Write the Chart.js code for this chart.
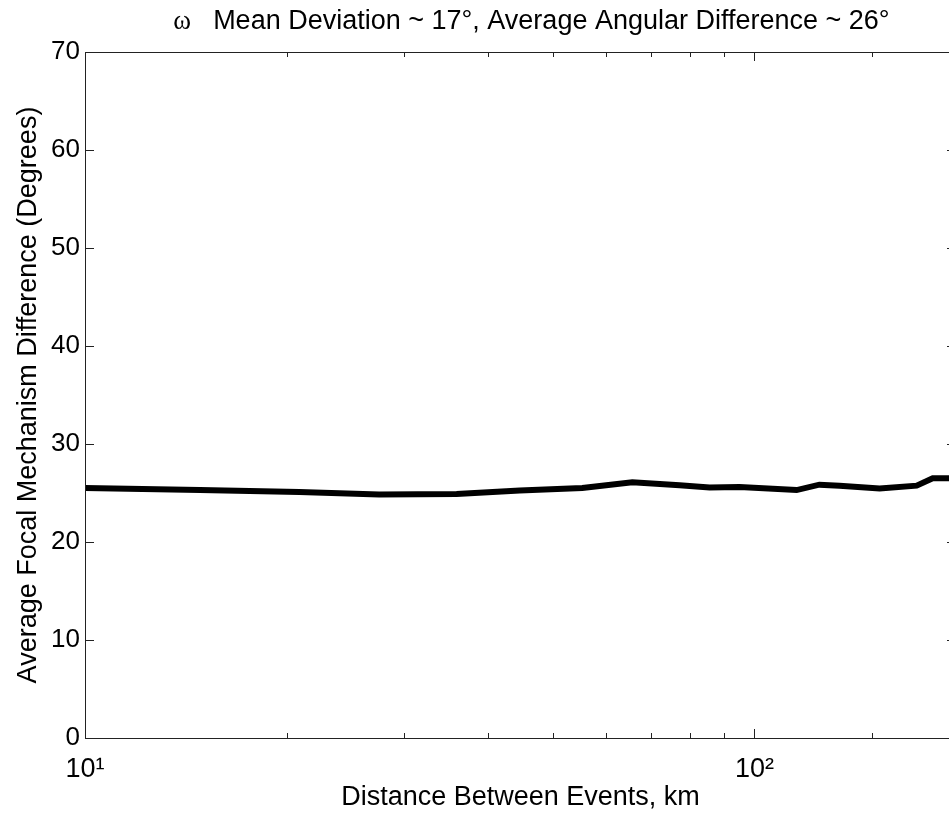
<!DOCTYPE html>
<html>
<head>
<meta charset="utf-8">
<script src="https://cdn.jsdelivr.net/npm/chart.js@4.4.1/dist/chart.umd.min.js"></script>
<style>
  html, body { margin: 0; padding: 0; background: #fff; overflow: hidden; width: 949px; height: 816px; }
  canvas { display: block; }
</style>
</head>
<body>
<canvas id="c" width="960" height="816"></canvas>
<script>
// 数据：事件间距离 (km) 与平均震源机制差 (度)
const distances = [10, 14.85, 20.9, 27.5, 35.9, 44.6, 55.3, 65.7, 77.3, 85.7, 95.0, 115.6, 125, 134, 153.8, 174.7, 184.6, 200];
const angDiff   = [25.5, 25.3, 25.1, 24.85, 24.9, 25.25, 25.5, 26.1, 25.8, 25.55, 25.6, 25.3, 25.85, 25.75, 25.45, 25.75, 26.5, 26.5];
const yTicks = [0, 10, 20, 30, 40, 50, 60, 70];
const xMajorLabels = { 10: '10¹', 100: '10²' };

const FONT = 'Liberation Sans, Arial, Helvetica, sans-serif';

// 坐标框 + 向内的刻度线（MATLAB 风格）
const framePlugin = {
  id: 'frame',
  afterDraw(chart) {
    const { ctx, chartArea: a, scales: { x, y } } = chart;
    ctx.save();
    ctx.strokeStyle = '#222';
    ctx.lineWidth = 1;
    ctx.strokeRect(a.left + 0.5, a.top + 0.5, a.right - a.left, a.bottom - a.top);
    ctx.beginPath();
    yTicks.forEach(v => {
      const py = Math.round(y.getPixelForValue(v)) + 0.5;
      ctx.moveTo(a.left, py); ctx.lineTo(a.left + 9, py);
      ctx.moveTo(a.right, py); ctx.lineTo(a.right - 9, py);
    });
    x.ticks.forEach(t => {
      const px = Math.round(x.getPixelForValue(t.value)) + 0.5;
      const len = xMajorLabels[t.value] ? 9 : 5;
      ctx.moveTo(px, a.bottom); ctx.lineTo(px, a.bottom - len);
      ctx.moveTo(px, a.top); ctx.lineTo(px, a.top + len);
    });
    ctx.stroke();

    // 标题：ω 用衬线字体
    const omega = 'ω';
    const text = 'Mean Deviation ~ 17°, Average Angular Difference ~ 26°';
    ctx.fillStyle = '#000';
    ctx.textBaseline = 'alphabetic';
    ctx.font = '27px ' + FONT;
    const wText = ctx.measureText(text).width;
    ctx.font = '27px Liberation Serif, Times New Roman, serif';
    const wOm = ctx.measureText(omega).width;
    const gap = 22;
    const total = wOm + gap + wText;
    const cx = (a.left + a.right) / 2 + 11;
    const sx = cx - total / 2;
    ctx.fillText(omega, sx, 29);
    ctx.font = '27px ' + FONT;
    ctx.fillText(text, sx + wOm + gap, 29);
    ctx.restore();
  }
};

new Chart(document.getElementById('c'), {
  type: 'line',
  data: {
    datasets: [{
      data: distances.map((d, i) => ({ x: d, y: angDiff[i] })),
      borderColor: '#000',
      borderWidth: 6,
      pointRadius: 0,
      tension: 0,
      fill: false
    }]
  },
  options: {
    responsive: false,
    animation: false,
    layout: { padding: { top: 52, right: 4, left: 0, bottom: 0 } },
    plugins: { legend: { display: false }, title: { display: false }, tooltip: { enabled: false } },
    scales: {
      x: {
        type: 'logarithmic',
        min: 10,
        max: 200,
        grid: { display: false, drawTicks: false },
        border: { display: false },
        afterFit: s => { s.height = 78; s.paddingLeft = 0; s.paddingRight = 0; },
        ticks: {
          autoSkip: false,
          maxRotation: 0,
          padding: 15,
          color: '#000',
          font: { family: FONT, size: 27 },
          callback: v => xMajorLabels[v] || ''
        },
        title: {
          display: true,
          text: 'Distance Between Events, km',
          color: '#000',
          font: { family: FONT, size: 27 },
          padding: { top: 0, bottom: 2 }
        }
      },
      y: {
        min: 0,
        max: 70,
        grid: { display: false, drawTicks: false },
        border: { display: false },
        afterFit: s => { s.width = 85; },
        afterBuildTicks: s => { s.ticks = yTicks.map(v => ({ value: v })); },
        ticks: {
          padding: 5,
          color: '#000',
          font: { family: FONT, size: 26 }
        },
        title: {
          display: true,
          text: 'Average Focal Mechanism Difference (Degrees)',
          color: '#000',
          font: { family: FONT, size: 27 },
          padding: { top: 12, bottom: 0 }
        }
      }
    }
  },
  plugins: [framePlugin]
});
</script>
</body>
</html>
